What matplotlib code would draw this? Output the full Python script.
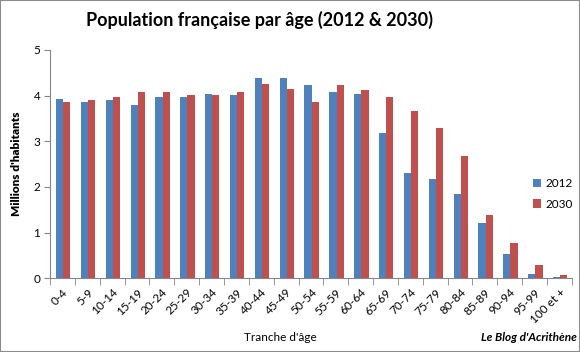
import matplotlib
matplotlib.use("Agg")
import matplotlib.pyplot as plt
from matplotlib.patches import Rectangle
import numpy as np

categories = ["0-4", "5-9", "10-14", "15-19", "20-24", "25-29", "30-34", "35-39",
              "40-44", "45-49", "50-54", "55-59", "60-64", "65-69", "70-74", "75-79",
              "80-84", "85-89", "90-94", "95-99", "100 et +"]
pop_2012 = [3.92, 3.86, 3.91, 3.79, 3.96, 3.96, 4.04, 4.02, 4.39, 4.39, 4.23,
            4.07, 4.04, 3.18, 2.31, 2.18, 1.85, 1.21, 0.53, 0.10, 0.02]
pop_2030 = [3.85, 3.91, 3.98, 4.08, 4.07, 4.02, 4.02, 4.07, 4.26, 4.14, 3.86,
            4.23, 4.12, 3.98, 3.66, 3.30, 2.68, 1.39, 0.78, 0.29, 0.07]
series_labels = ["2012", "2030"]

plt.rcParams['font.family'] = ['Lato', 'DejaVu Sans']

fig = plt.figure(figsize=(5.8, 3.52), dpi=100)
fig.patches.append(Rectangle((0, 0), 1, 1, transform=fig.transFigure,
                             fill=False, edgecolor="#8c8c8c", linewidth=1.5))
ax = fig.add_axes([0.0862, 0.2094, 0.8998, 0.6486])

x = np.arange(len(categories)) + 0.53
w = 0.29
ax.bar(x - w / 2, pop_2012, width=w, color="#4F81BD", label=series_labels[0])
ax.bar(x + w / 2, pop_2030, width=w, color="#C0504D", label=series_labels[1])

ax.set_xlim(0, len(categories))
ax.set_ylim(0, 5)
ax.set_yticks(range(0, 6))
ax.tick_params(axis='y', labelsize=8.5, length=4, color="#868686", pad=3)

ax.set_xticks(np.arange(len(categories)) + 0.5)
ax.set_xticklabels(categories, rotation=45, ha='right', rotation_mode='anchor', fontsize=8.5)
ax.tick_params(axis='x', which='major', length=0, pad=6)
ax.set_xticks(np.arange(len(categories) + 1), minor=True)
ax.tick_params(axis='x', which='minor', length=5, color="#868686")

for s in ['top', 'right']:
    ax.spines[s].set_visible(False)
for s in ['left', 'bottom']:
    ax.spines[s].set_color("#868686")

ax.set_ylabel("Millions d'habitants", fontsize=8.5, fontweight='heavy', labelpad=8)
fig.text(0.484, 0.03, "Tranche d'âge", ha='center', fontsize=8.5)
fig.text(0.995, 0.03, "Le Blog d'Acrithène", ha='right', fontsize=8.5,
         fontweight='bold', style='italic')
fig.text(0.448, 0.925, "Population française par âge (2012 & 2030)", ha='center',
         fontsize=13, fontweight='bold')

ax.legend(loc='center left', bbox_to_anchor=(0.905, 0.37), frameon=False,
          fontsize=8.5, handlelength=0.7, handleheight=0.7, labelspacing=0.8,
          handletextpad=0.4)

fig.savefig("out.png", dpi=100)
